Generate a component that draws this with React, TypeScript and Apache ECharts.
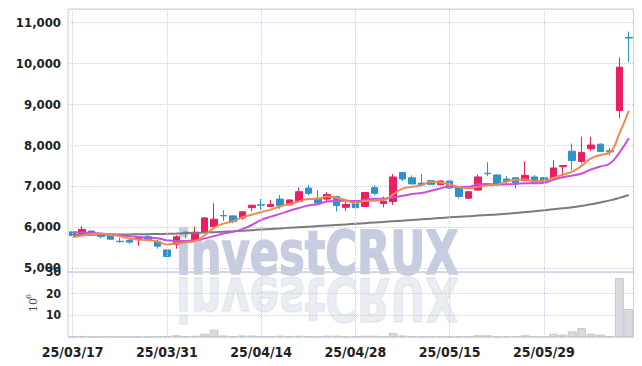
import React, { useEffect, useRef } from 'react';
import * as echarts from 'echarts';

const dates = [
  '25/03/17', '25/03/18', '25/03/19', '25/03/20', '25/03/21', '25/03/24', '25/03/25', '25/03/26', '25/03/27', '25/03/28',
  '25/03/31', '25/04/01', '25/04/02', '25/04/03', '25/04/04', '25/04/07', '25/04/08', '25/04/09', '25/04/10', '25/04/11',
  '25/04/14', '25/04/15', '25/04/16', '25/04/17', '25/04/18', '25/04/21', '25/04/22', '25/04/23', '25/04/24', '25/04/25',
  '25/04/28', '25/04/29', '25/04/30', '25/05/02', '25/05/07', '25/05/08', '25/05/09', '25/05/12', '25/05/13', '25/05/14',
  '25/05/15', '25/05/16', '25/05/19', '25/05/20', '25/05/21', '25/05/22', '25/05/23', '25/05/26', '25/05/27', '25/05/28',
  '25/05/29', '25/05/30', '25/06/02', '25/06/04', '25/06/05', '25/06/09', '25/06/10', '25/06/11', '25/06/12', '25/06/13',
];

const opens = [
  5880, 5810, 5900, 5840, 5790, 5650, 5670, 5690, 5760, 5650,
  5440, 5580, 5870, 5690, 5870, 6010, 6280, 6270, 6220, 6470,
  6540, 6500, 6680, 6540, 6620, 6950, 6700, 6680, 6740, 6480,
  6600, 6500, 6960, 6570, 6620, 7330, 7200, 7070, 7130, 7030,
  7120, 6980, 6700, 6900, 7310, 7270, 7170, 7200, 7130, 7220,
  7200, 7200, 7470, 7850, 7600, 7910, 8020, 7860, 8840, 10630,
];
const closes = [
  5790, 5940, 5830, 5770, 5700, 5640, 5630, 5740, 5690, 5530,
  5280, 5760, 5850, 5870, 6220, 6190, 6270, 6130, 6370, 6530,
  6530, 6550, 6520, 6660, 6860, 6820, 6580, 6790, 6520, 6550,
  6470, 6840, 6820, 6630, 7220, 7170, 7050, 7030, 7040, 7120,
  6950, 6740, 6860, 7220, 7300, 7040, 7110, 7080, 7260, 7090,
  7100, 7440, 7500, 7620, 7820, 8000, 7840, 7830, 9900, 10610,
];
const lows = [
  5780, 5800, 5820, 5720, 5700, 5620, 5590, 5540, 5680, 5470,
  5270, 5470, 5720, 5680, 5870, 6000, 6150, 6090, 6180, 6380,
  6420, 6490, 6440, 6520, 6600, 6770, 6570, 6620, 6380, 6390,
  6460, 6490, 6770, 6480, 6540, 7120, 7040, 6990, 7020, 7020,
  6920, 6700, 6680, 6880, 7240, 7030, 7010, 6940, 7120, 7040,
  7080, 7190, 7190, 7390, 7550, 7850, 7830, 7740, 8650, 10030,
];
const highs = [
  5890, 6020, 5910, 5850, 5800, 5740, 5740, 5750, 5820, 5690,
  5440, 5800, 5900, 6010, 6240, 6580, 6410, 6280, 6380, 6540,
  6680, 6660, 6780, 6670, 6960, 7020, 6900, 6850, 6760, 6620,
  6610, 6850, 7020, 6740, 7290, 7340, 7260, 7290, 7150, 7140,
  7140, 6990, 6880, 7280, 7580, 7280, 7240, 7210, 7600, 7260,
  7210, 7630, 7500, 8040, 8200, 8200, 8040, 7930, 10140, 10770,
];

// volume in millions of shares (axis unit 10^6)
const volumes = [
  0.3, 0.5, 0.2, 0.2, 0.4, 0.2, 0.2, 0.2, 0.2, 0.3,
  0.5, 0.8, 0.4, 0.6, 1.5, 3.4, 0.7, 0.4, 0.7, 0.7,
  0.4, 0.5, 0.6, 0.4, 0.6, 0.3, 0.3, 0.6, 0.6, 0.3,
  0.3, 0.6, 0.6, 0.3, 1.8, 0.7, 0.3, 0.3, 0.3, 0.3,
  0.3, 0.3, 0.3, 0.8, 0.8, 0.3, 0.3, 0.4, 0.8, 0.4,
  0.3, 1.5, 1.1, 2.6, 4.1, 1.5, 1.1, 0.4, 27.2, 12.9,
];

const ma5 = [
  5750, 5790, 5825, 5830, 5806, 5776, 5714, 5696, 5680, 5646,
  5574, 5600, 5622, 5658, 5796, 5978, 6080, 6136, 6236, 6298,
  6366, 6422, 6500, 6558, 6624, 6682, 6688, 6742, 6714, 6652,
  6582, 6634, 6640, 6662, 6796, 6936, 6978, 7020, 7102, 7082,
  7038, 6976, 6942, 6978, 7014, 7032, 7106, 7150, 7158, 7116,
  7128, 7194, 7278, 7350, 7496, 7676, 7756, 7822, 8278, 8836,
];
const ma10 = [
  5870, 5865, 5855, 5840, 5820, 5795, 5775, 5755, 5740, 5726,
  5675, 5657, 5659, 5669, 5721, 5776, 5840, 5879, 5947, 6047,
  6172, 6251, 6318, 6397, 6461, 6524, 6555, 6621, 6636, 6638,
  6632, 6661, 6691, 6688, 6724, 6759, 6806, 6830, 6882, 6939,
  6987, 6977, 6981, 7040, 7048, 7035, 7041, 7046, 7068, 7065,
  7080, 7150, 7214, 7254, 7306, 7402, 7475, 7550, 7814, 8166,
];
const maLong = [
  5805, 5807, 5809, 5811, 5813, 5815, 5818, 5821, 5824, 5828,
  5833, 5839, 5846, 5854, 5863, 5873, 5884, 5896, 5909, 5922,
  5936, 5950, 5964, 5978, 5992, 6006, 6020, 6034, 6048, 6062,
  6077, 6092, 6107, 6122, 6138, 6154, 6170, 6186, 6202, 6218,
  6234, 6249, 6263, 6277, 6291, 6305, 6322, 6340, 6362, 6384,
  6406, 6430, 6455, 6482, 6515, 6552, 6598, 6648, 6710, 6780,
];

const gridLineDates = ['25/03/17', '25/03/31', '25/04/14', '25/04/28', '25/05/15', '25/05/29'];

const FONT = '"Liberation Sans Narrow", "DejaVu Sans Condensed", "Roboto", sans-serif';
const GRID_COLOR = '#c9cddd';
const BORDER_COLOR = '#cfd0d8';

export default function App() {
  const ref = useRef<HTMLDivElement>(null);

  useEffect(() => {
    const chart = echarts.init(ref.current as HTMLDivElement, null, { renderer: 'svg' });
    const ohlc = dates.map((_, i) => [opens[i], closes[i], lows[i], highs[i]]);
    const vLines = gridLineDates.map((d) => ({ xAxis: d }));
    const wmStyle = {
      text: 'investCRUX',
      fill: '#c6cde1',
      stroke: '#c6cde1',
      lineWidth: 1.5,
      fontFamily: '"DejaVu Sans Condensed", "DejaVu Sans", sans-serif',
      fontWeight: 'bold',
      fontSize: 60,
      verticalAlign: 'middle',
      align: 'left',
    };

    const option: any = {
      animation: false,
      backgroundColor: '#ffffff',
      grid: [
        { left: 68, right: 8.5, top: 9, height: 263, show: true, borderColor: BORDER_COLOR, borderWidth: 1, backgroundColor: 'transparent' },
        { left: 68, right: 8.5, top: 272, height: 65, show: true, borderColor: BORDER_COLOR, borderWidth: 1, backgroundColor: 'transparent' },
      ],
      xAxis: [
        {
          type: 'category', gridIndex: 0, data: dates, boundaryGap: true,
          axisLine: { show: false }, axisTick: { show: false }, axisLabel: { show: false }, splitLine: { show: false },
        },
        {
          type: 'category', gridIndex: 1, data: dates, boundaryGap: true,
          axisLine: { show: false }, axisTick: { show: false }, splitLine: { show: false },
          axisLabel: { interval: 9, margin: 8, color: '#222', fontFamily: FONT, fontWeight: 'bold', fontSize: 14 },
        },
      ],
      yAxis: [
        {
          type: 'value', gridIndex: 0, min: 4900, max: 11320, scale: true,
          axisLine: { show: false }, axisTick: { show: false },
          splitLine: { show: true, lineStyle: { type: 'dotted', color: GRID_COLOR, width: 1 } },
          axisLabel: {
            margin: 7, color: '#222', fontFamily: FONT, fontWeight: 'bold', fontSize: 13,
            formatter: (v: number) => (v % 1000 === 0 ? v.toLocaleString('en-US') : ''),
          },
        },
        {
          type: 'value', gridIndex: 1, min: 0, max: 30, interval: 10,
          axisLine: { show: false }, axisTick: { show: false },
          splitLine: { show: true, lineStyle: { type: 'dotted', color: GRID_COLOR, width: 1 } },
          axisLabel: {
            margin: 7, color: '#222', fontFamily: FONT, fontWeight: 'bold', fontSize: 12,
            formatter: (v: number) => (v === 0 ? '' : String(v)),
          },
        },
      ],
      graphic: [
        { type: 'text', z: -1, x: 176, y: 254, scaleX: 0.8, style: { ...wmStyle } },
        { type: 'text', z: -1, x: 176, y: 298, scaleX: 0.8, scaleY: -1, style: { ...wmStyle, opacity: 0.35 } },
        {
          type: 'group', x: 33, y: 312, rotation: Math.PI / 2,
          children: [
            { type: 'text', x: 0, y: 0, style: { text: '10', fill: '#444', fontFamily: 'DejaVu Serif, serif', fontSize: 11, verticalAlign: 'middle', align: 'left' } },
            { type: 'text', x: 13, y: -5, style: { text: '6', fill: '#444', fontFamily: 'DejaVu Serif, serif', fontSize: 8, verticalAlign: 'middle', align: 'left' } },
          ],
        },
      ],
      series: [
        {
          type: 'candlestick', name: 'price', xAxisIndex: 0, yAxisIndex: 0, data: ohlc, barWidth: 7,
          itemStyle: { color: '#E91E63', color0: '#2E93C9', borderColor: '#E91E63', borderColor0: '#2E93C9', borderWidth: 1 },
          markLine: {
            silent: true, symbol: ['none', 'none'], label: { show: false },
            lineStyle: { type: 'dotted', color: GRID_COLOR, width: 1 },
            data: vLines,
          },
        },
        {
          type: 'line', name: 'MA long', xAxisIndex: 0, yAxisIndex: 0, data: maLong, smooth: true, showSymbol: false,
          lineStyle: { color: '#7b7b7b', width: 2 }, itemStyle: { color: '#7b7b7b' },
        },
        {
          type: 'line', name: 'MA10', xAxisIndex: 0, yAxisIndex: 0, data: ma10, smooth: true, showSymbol: false,
          lineStyle: { color: '#c94fe4', width: 2 }, itemStyle: { color: '#c94fe4' },
        },
        {
          type: 'line', name: 'MA5', xAxisIndex: 0, yAxisIndex: 0, data: ma5, smooth: true, showSymbol: false,
          lineStyle: { color: '#f08a4b', width: 2 }, itemStyle: { color: '#f08a4b' },
        },
        {
          type: 'bar', name: 'volume', xAxisIndex: 1, yAxisIndex: 1, data: volumes, barWidth: '94%',
          itemStyle: { color: '#dadae1', borderColor: '#c6c6ce', borderWidth: 1 },
          markLine: {
            silent: true, symbol: ['none', 'none'], label: { show: false },
            lineStyle: { type: 'dotted', color: GRID_COLOR, width: 1 },
            data: vLines,
          },
        },
      ],
    };

    chart.setOption(option);
    return () => chart.dispose();
  }, []);

  return <div ref={ref} style={{ position: 'absolute', left: 0, top: 0, width: 642, height: 366 }} />;
}
